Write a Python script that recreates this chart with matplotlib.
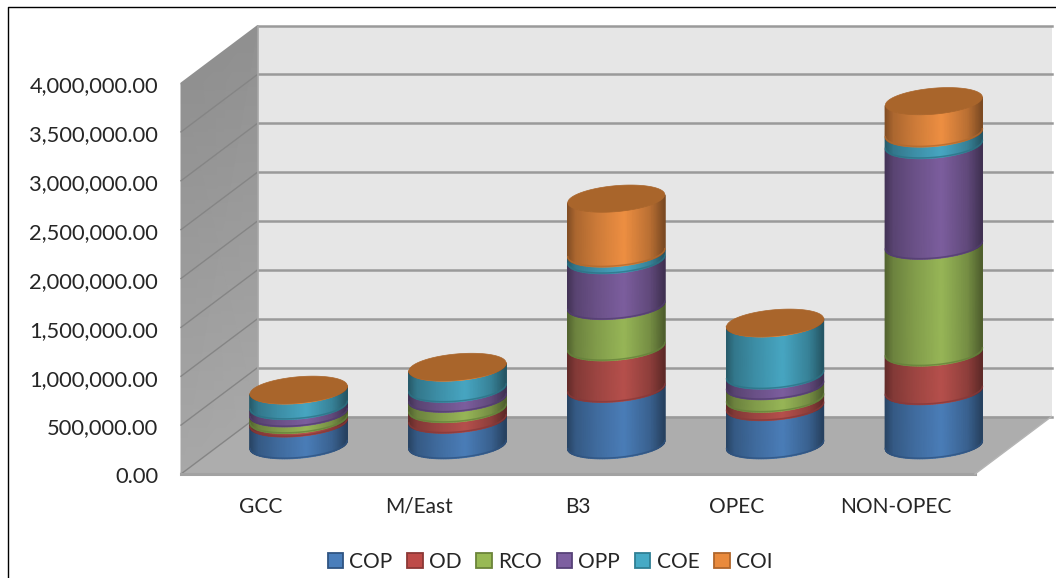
import numpy as np
import matplotlib
matplotlib.use("Agg")
import matplotlib.pyplot as plt
from matplotlib.colors import LinearSegmentedColormap
from matplotlib.lines import Line2D
from matplotlib.patches import Patch
from matplotlib.transforms import ScaledTranslation

plt.rcParams['font.family'] = ['Lato', 'DejaVu Sans']

# DADOS

categories = ['GCC', 'M/East', 'B3', 'OPEC', 'NON-OPEC']
series_names = ['COP', 'OD', 'RCO', 'OPP', 'COE', 'COI']

cop = [224000, 262000, 578000, 391000, 554000]
od = [35000, 109000, 425000, 85000, 395000]
rco = [68000, 105000, 422000, 129000, 1092000]
opp = [75000, 102000, 469000, 109000, 1030000]
coe = [160000, 218000, 68000, 534000, 119000]
coi = [6000, 6000, 561000, 6000, 330000]

y_ticks = [0, 500000, 1000000, 1500000, 2000000, 2500000, 3000000, 3500000, 4000000]

# ESTILO

series_data = [cop, od, rco, opp, coe, coi]
side_colors = ['#4A7DB8', '#B6504C', '#97B657', '#7C5E9E', '#47A6C2', '#EE8F42']
rim_colors = ['#2F5380', '#86383A', '#64803A', '#523D70', '#2C7285', '#B0692E']
swatch_faces = ['#4A7EBB', '#BE4B48', '#98B954', '#7D5FA0', '#46AAC5', '#E98A3C']
swatch_edges = ['#2F5482', '#8C3836', '#6B8439', '#574278', '#2F7F94', '#B0662B']
top_color = '#A9652B'

depth_dx = 0.482      # deslocamento em x da parede do fundo (categorias)
depth_dy = 588000     # deslocamento em y da parede do fundo (valor)
half_w = 0.3055       # raio do cilindro em x
half_h = 133000       # semi-eixo vertical da elipse
tilt = 41000          # inclinacao da elipse

W, H = 1056, 578
fig = plt.figure(figsize=(W / 100, H / 100), dpi=100, facecolor='white')
ax = fig.add_axes([181 / W, 1 - 474 / H, 794 / W, 391 / H])
ax.set_xlim(-0.5, 4.5)
ax.set_ylim(0, 4000000)
ax.patch.set_visible(False)
for sp in ax.spines.values():
    sp.set_visible(False)

# FUNCOES AUXILIARES

# leva um ponto do plano da frente para a profundidade d (0 = frente, 1 = fundo)
def project(x, y, d):
    return x + depth_dx * d, y + depth_dy * d

# arco da frente da elipse do cilindro
def front_arc(cx, cy, n=60):
    th = np.linspace(0, np.pi, n)
    return cx - half_w * np.cos(th), cy - half_h * np.sin(th) - tilt * np.cos(th)

# elipse inteira (tampa)
def full_ellipse(cx, cy, n=120):
    th = np.linspace(0, 2 * np.pi, n)
    return cx - half_w * np.cos(th), cy - half_h * np.sin(th) - tilt * np.cos(th)

# mapa de cor do lado do cilindro: escuro nas bordas, claro perto do meio
def side_cmap(color):
    rgb = np.array(matplotlib.colors.to_rgb(color))
    stops = [(0, 0.55), (0.08, 0.72), (0.3, 0.86), (0.58, 1.0), (0.85, 0.78), (1, 0.52)]
    return LinearSegmentedColormap.from_list('side', [(u, tuple(rgb * k)) for u, k in stops])

# desenha um pedaco da pilha entre os valores y0 e y1
def draw_segment(cx, base, y0, y1, color, rim):
    xs, lo = front_arc(cx, base + y0)
    _, hi = front_arc(cx, base + y1)
    u = (xs - xs[0]) / (xs[-1] - xs[0])
    ax.pcolormesh(np.array([xs, xs]), np.array([lo, hi]), np.array([u, u]),
                  shading='gouraud', cmap=side_cmap(color), vmin=0, vmax=1,
                  zorder=5, clip_on=False)
    ax.plot(xs, lo + 7000, color=rim, lw=1.1, alpha=0.75, zorder=5, clip_on=False)

# PAREDES E CHAO

x0, x1 = -0.5, 4.5
top = 4000000
wall = [project(x0, 0, 1), project(x1, 0, 1), project(x1, top, 1), project(x0, top, 1)]
floor = [project(x0, 0, 0), project(x1, 0, 0), project(x1, 0, 1), project(x0, 0, 1)]

ax.fill(*zip(*wall), color='#E6E6E6', lw=0, zorder=1, clip_on=False)
ax.fill(*zip(*floor), color='#ADADAD', lw=0, zorder=1, clip_on=False)

# parede lateral, um pouco mais clara embaixo
xl0, yl0 = project(x0, 0, 0)
xl1, yl1 = project(x0, 0, 1)
xt0, yt0 = project(x0, top, 0)
xt1, yt1 = project(x0, top, 1)
ax.pcolormesh(np.array([[xl0, xl1], [xt0, xt1]]), np.array([[yl0, yl1], [yt0, yt1]]),
              np.array([[0.66, 0.66], [0.565, 0.565]]), shading='gouraud', cmap='gray',
              vmin=0, vmax=1, zorder=1, clip_on=False)

for v in y_ticks:
    xa, ya = project(x0, v, 0)
    xb, yb = project(x0, v, 1)
    xc, yc = project(x1, v, 1)
    if v != top:
        ax.plot([xa, xb], [ya, yb], color='#858585', lw=1.0, zorder=2, clip_on=False)
    ax.plot([xb, xc], [yb, yc], color='#9A9A9A', lw=1.8, zorder=2, clip_on=False)

xb, yb = project(x0, 0, 1)
xc, yc = project(x0, top, 1)
ax.plot([xb, xc], [yb, yc], color='#A8A8A8', lw=1.2, zorder=2, clip_on=False)
ax.plot([x0, x1], [0, 0], color='#A2A2A2', lw=2.2, zorder=3, clip_on=False)
xr, yr = project(x1, 0, 1)
ax.plot([x1, xr], [0, yr], color='#B5B5B5', lw=1.0, zorder=3, clip_on=False)

# CILINDROS

for i in range(len(categories)):
    cx, base = project(i, 0, 0.5)
    total = 0
    for k in range(len(series_data)):
        val = series_data[k][i]
        draw_segment(cx, base, total, total + val, side_colors[k], rim_colors[k])
        total += val
    ex, ey = full_ellipse(cx, base + total)
    ax.fill(ex, ey, color=top_color, lw=0.5, zorder=6, clip_on=False)

# EIXOS E LEGENDA

ax.set_xticks(range(len(categories)))
ax.set_xticklabels(categories)
ax.set_yticks(y_ticks)
ax.set_yticklabels(['{:,.2f}'.format(v) for v in y_ticks])
ax.tick_params(axis='y', length=0, pad=16.5, labelsize=15.75, labelcolor='#262626')
ax.tick_params(axis='x', length=0, pad=16.5, labelsize=15, labelcolor='#262626')

# rotulos do eixo y um pouco abaixo da marca
shift = ScaledTranslation(0, -1 / 72, fig.dpi_scale_trans)
for lab in ax.get_yticklabels():
    lab.set_transform(lab.get_transform() + shift)

handles = [Patch(facecolor=f, edgecolor=e, linewidth=1.3)
           for f, e in zip(swatch_faces, swatch_edges)]
ax.legend(handles, series_names, loc='center', bbox_to_anchor=(550 / W, 1 - 562 / H),
          bbox_transform=fig.transFigure, ncol=6, frameon=False, fontsize=15,
          labelcolor='#262626', handlelength=0.75, handleheight=0.75,
          handletextpad=0.3, columnspacing=0.7, borderpad=0)

# moldura preta em cima e na esquerda
fig.add_artist(Line2D([8 / W, 8 / W, 1], [0, 1 - 6.5 / H, 1 - 6.5 / H],
                      color='black', lw=1.0, transform=fig.transFigure))

plt.savefig('out.png', dpi=100)
